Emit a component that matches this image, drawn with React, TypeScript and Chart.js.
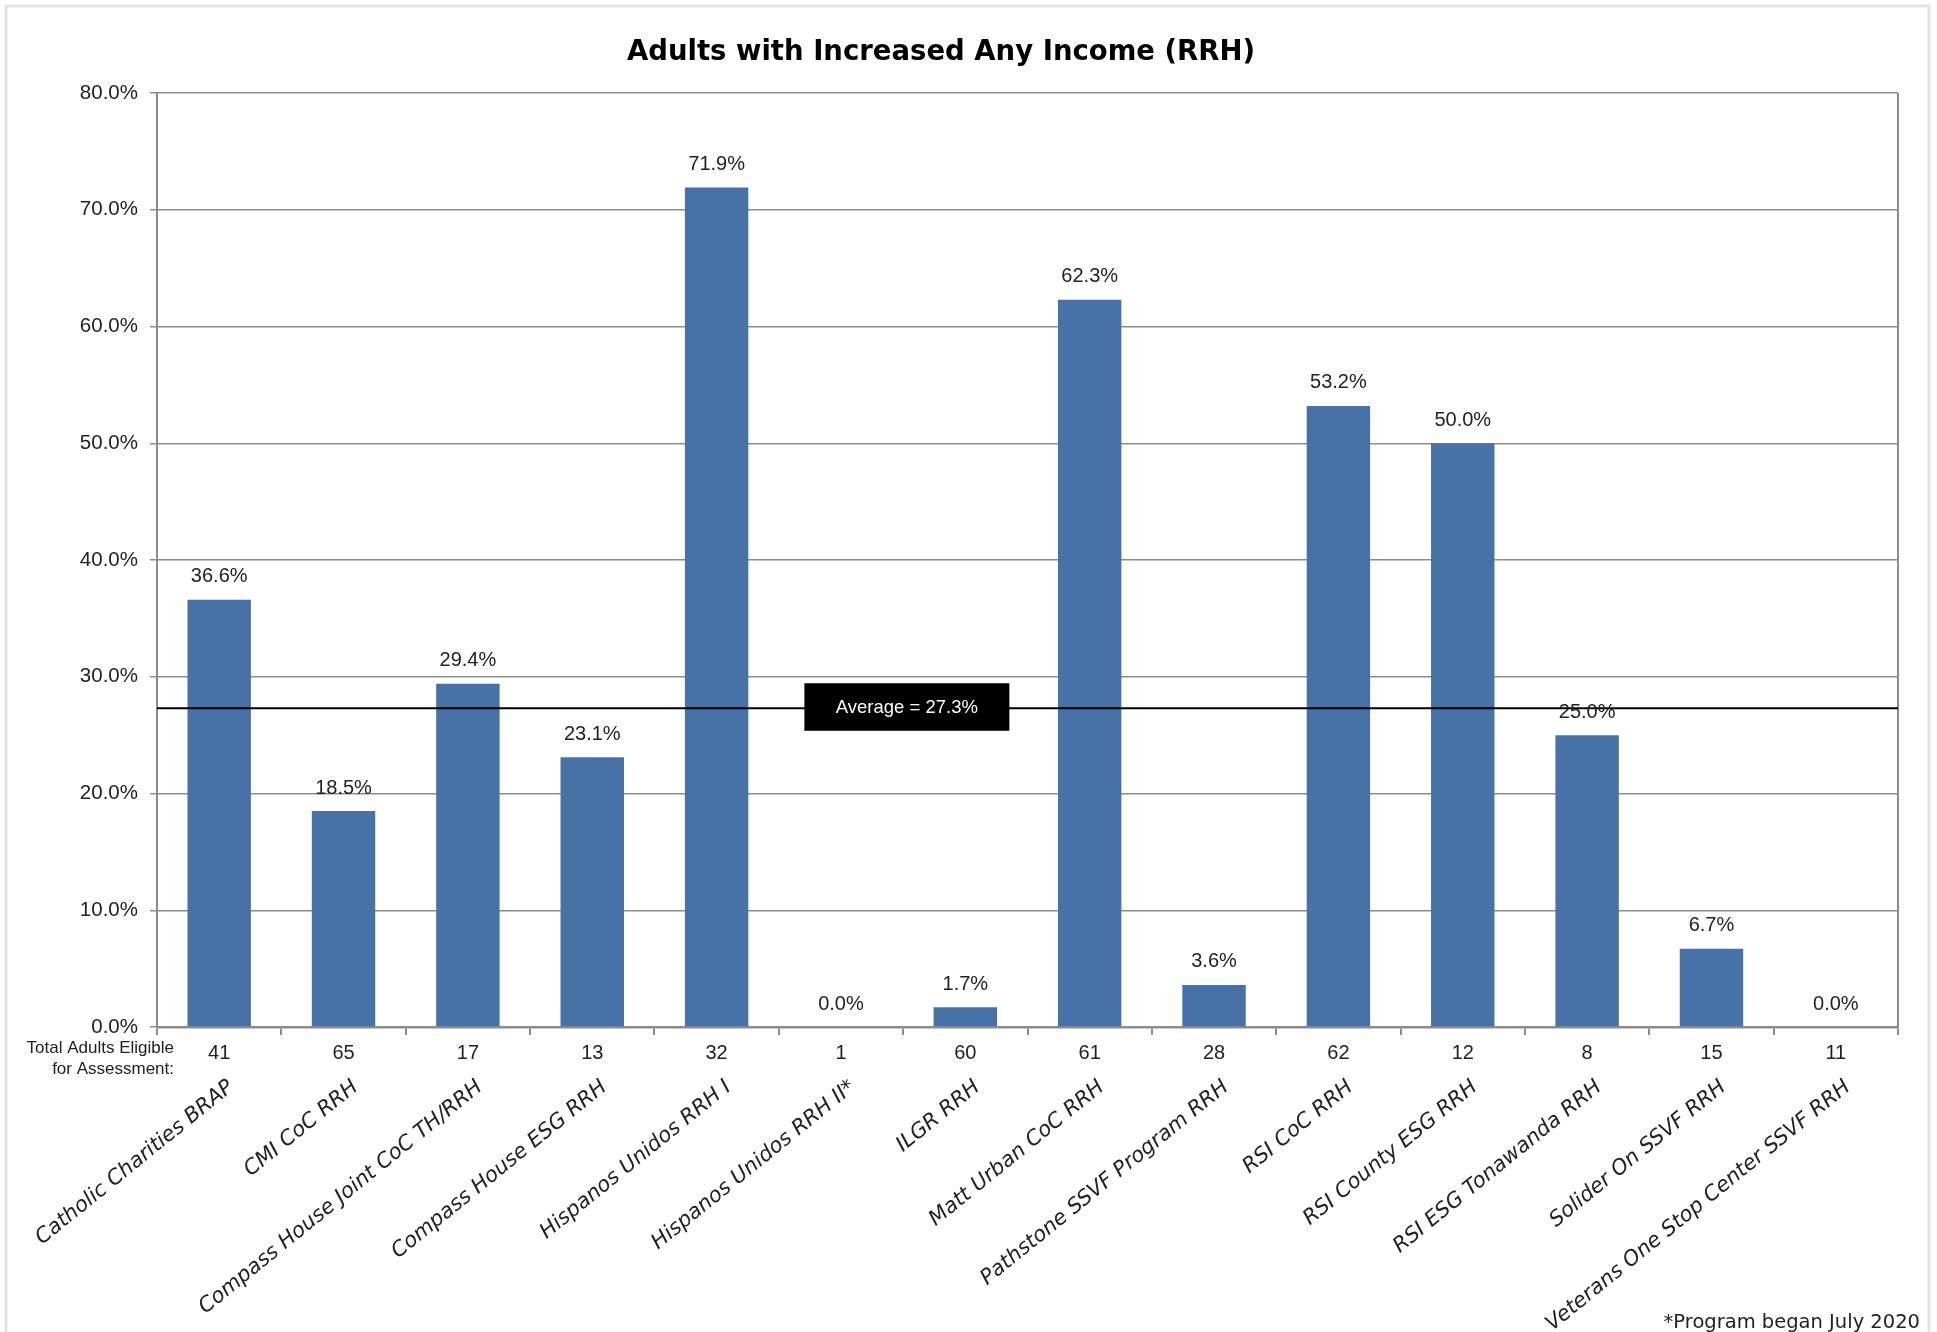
import React, { useEffect, useRef } from 'react';
import { Chart, registerables } from 'chart.js';

Chart.register(...registerables);

// ---- data ----
const categories: string[] = [
  'Catholic Charities BRAP',
  'CMI CoC RRH',
  'Compass House Joint CoC TH/RRH',
  'Compass House ESG RRH',
  'Hispanos Unidos RRH I',
  'Hispanos Unidos RRH II*',
  'ILGR RRH',
  'Matt Urban CoC RRH',
  'Pathstone SSVF Program RRH',
  'RSI CoC RRH',
  'RSI County ESG RRH',
  'RSI ESG Tonawanda RRH',
  'Solider On SSVF RRH',
  'Veterans One Stop Center SSVF RRH',
];
const percentIncreased: number[] = [36.6, 18.5, 29.4, 23.1, 71.9, 0.0, 1.7, 62.3, 3.6, 53.2, 50.0, 25.0, 6.7, 0.0];
const eligibleCounts: number[] = [41, 65, 17, 13, 32, 1, 60, 61, 28, 62, 12, 8, 15, 11];
const averageValue = 27.3;
const yMin = 0;
const yMax = 80;
const yStep = 10;
const titleText = 'Adults with Increased Any Income (RRH)';
const countsCaption: string[] = ['Total Adults Eligible', 'for Assessment:'];
const footnoteText = '*Program began July 2020';

const BAR = '#4672a7';
const GRID = '#8c8c8c';
const TEXT = '#222222';

const decorPlugin = {
  id: 'decor',
  beforeDraw(chart: any) {
    const ctx = chart.ctx;
    ctx.save();
    ctx.fillStyle = '#ffffff';
    ctx.fillRect(0, 0, chart.width, chart.height);
    ctx.strokeStyle = '#e3e3e3';
    ctx.lineWidth = 3;
    ctx.strokeRect(6, 6, 1923, 1400);
    ctx.restore();
  },
  afterDatasetsDraw(chart: any) {
    const { ctx, chartArea, scales } = chart;
    const xs = scales.x;
    const ys = scales.y;
    ctx.save();
    // right frame of plot
    ctx.strokeStyle = GRID;
    ctx.lineWidth = 2;
    ctx.beginPath();
    ctx.moveTo(chartArea.right, chartArea.top);
    ctx.lineTo(chartArea.right, chartArea.bottom);
    ctx.stroke();

    // average line
    const ay = ys.getPixelForValue(averageValue);
    ctx.strokeStyle = '#000000';
    ctx.lineWidth = 2;
    ctx.beginPath();
    ctx.moveTo(chartArea.left, ay);
    ctx.lineTo(chartArea.right, ay);
    ctx.stroke();

    // average box
    const cx = xs.getPixelForValue(5.53);
    ctx.fillStyle = '#000000';
    ctx.fillRect(cx - 102.5, ay - 25, 205, 47.5);
    ctx.fillStyle = '#ffffff';
    ctx.font = '18.5px "Liberation Sans", Arial, sans-serif';
    ctx.textAlign = 'center';
    ctx.textBaseline = 'middle';
    ctx.fillText('Average = ' + averageValue.toFixed(1) + '%', cx, ay);

    // data labels
    const meta = chart.getDatasetMeta(0);
    ctx.fillStyle = TEXT;
    ctx.font = '20px "Liberation Sans", Arial, sans-serif';
    meta.data.forEach((el: any, i: number) => {
      ctx.fillText(percentIncreased[i].toFixed(1) + '%', el.x, el.y - 23);
    });

    // title
    ctx.fillStyle = '#000000';
    ctx.font = 'bold 27.5px "DejaVu Sans", sans-serif';
    ctx.textAlign = 'center';
    ctx.textBaseline = 'middle';
    ctx.fillText(titleText, 941, 52.5);

    // counts caption
    ctx.fillStyle = TEXT;
    ctx.font = '17px "Liberation Sans", Arial, sans-serif';
    ctx.textAlign = 'right';
    ctx.textBaseline = 'middle';
    ctx.fillText(countsCaption[0], chartArea.left + 17, xs.top + 21.5);
    ctx.fillText(countsCaption[1], chartArea.left + 17, xs.top + 42);

    // footnote
    ctx.font = '19.5px "DejaVu Sans", sans-serif';
    ctx.textAlign = 'right';
    ctx.textBaseline = 'alphabetic';
    ctx.fillText(footnoteText, 1920, 1328);
    ctx.restore();
  },
};

export default function App() {
  const canvasRef = useRef<HTMLCanvasElement | null>(null);

  useEffect(() => {
    document.body.style.margin = '0';
    document.body.style.overflow = 'hidden';
    const canvas = canvasRef.current;
    if (!canvas) return;
    const chart = new Chart(canvas, {
      type: 'bar',
      data: {
        labels: categories,
        datasets: [
          {
            label: 'Adults with Increased Any Income',
            data: percentIncreased,
            backgroundColor: BAR,
            borderWidth: 0,
            categoryPercentage: 1,
            barPercentage: 0.51,
          },
        ],
      },
      options: {
        responsive: false,
        animation: false,
        devicePixelRatio: 1,
        layout: { padding: { top: 93, left: 0, right: 39, bottom: 0 } },
        plugins: {
          legend: { display: false },
          title: { display: false },
          tooltip: { enabled: false },
        },
        scales: {
          y: {
            min: yMin,
            max: yMax,
            afterFit: (s: any) => {
              s.width = 157;
            },
            ticks: {
              stepSize: yStep,
              padding: 12,
              color: TEXT,
              font: { family: '"Liberation Sans", Arial, sans-serif', size: 20.5 },
              callback: (v: any) => Number(v).toFixed(1) + '%',
            },
            grid: { color: GRID, lineWidth: 1.5, tickLength: 7, drawTicks: true },
            border: { display: true, color: GRID, width: 2 },
          },
          x: {
            type: 'category',
            offset: true,
            weight: 0,
            afterFit: (s: any) => {
              s.height = 40;
            },
            ticks: {
              autoSkip: false,
              maxRotation: 0,
              minRotation: 0,
              padding: 6,
              color: TEXT,
              font: { family: '"Liberation Sans", Arial, sans-serif', size: 20 },
              callback: (_v: any, i: number) => String(eligibleCounts[i]),
            },
            grid: { display: true, offset: true, drawOnChartArea: false, drawTicks: true, tickLength: 8, color: GRID, lineWidth: 2 },
            border: { display: true, color: GRID, width: 2.5 },
          },
          x2: {
            type: 'category',
            labels: categories,
            position: 'bottom',
            offset: true,
            weight: 1,
            afterFit: (s: any) => {
              s.height = 265;
            },
            ticks: {
              autoSkip: false,
              maxRotation: 39,
              minRotation: 39,
              labelOffset: 12,
              padding: 8,
              color: TEXT,
              font: { family: '"DejaVu Sans", sans-serif', size: 21, style: 'italic' },
            },
            grid: { display: false, drawTicks: false },
            border: { display: false },
          },
        },
      },
      plugins: [decorPlugin],
    } as any);
    return () => chart.destroy();
  }, []);

  return (
    <div style={{ width: 1937, height: 1332, position: 'relative' }}>
      <canvas ref={canvasRef} width={1937} height={1332} style={{ display: 'block' }} />
    </div>
  );
}
